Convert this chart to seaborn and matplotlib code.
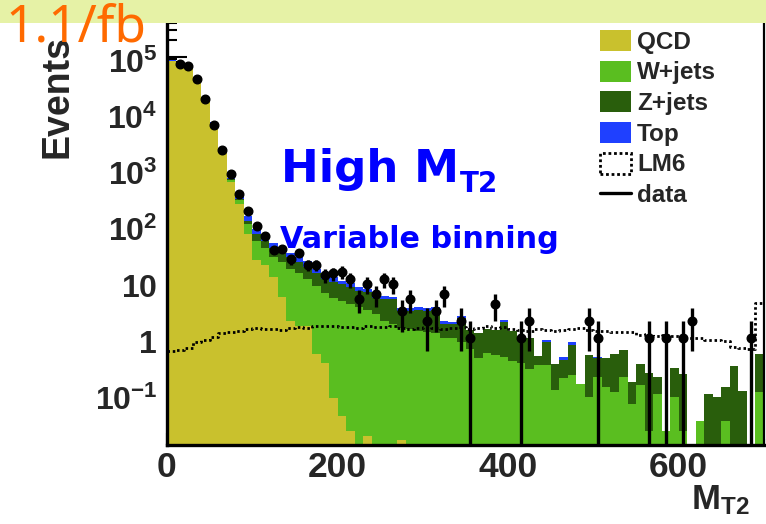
import numpy as np
import pandas as pd
import matplotlib
matplotlib.use("Agg")
import matplotlib.pyplot as plt
import seaborn as sns
from matplotlib.patches import Patch, Rectangle
from matplotlib.lines import Line2D
from matplotlib.font_manager import FontProperties
from matplotlib.ticker import FixedLocator, MultipleLocator, NullFormatter
from matplotlib.transforms import ScaledTranslation

# MT2 binning: 70 bins of 10 GeV from 0 to 700
edges = list(range(0, 701, 10))
centers = np.array(edges[:-1]) + 5

processes = ["QCD", "W+jets", "Z+jets", "Top"]

qcd = [86000, 82000, 70000, 44000, 18800, 6550, 2150, 600, 243, 70,
       24, 20, 12, 5.4, 2.0, 1.6, 1.6, 0.52, 0.36, 0.085,
       0.04, 0.022, 0, 0.018, 0, 0, 0, 0.015, 0, 0,
       0, 0, 0, 0, 0, 0, 0, 0, 0, 0,
       0, 0, 0, 0, 0, 0, 0, 0, 0, 0,
       0, 0, 0, 0, 0, 0, 0, 0, 0, 0,
       0, 0, 0, 0, 0, 0, 0, 0, 0, 0]

wjets = [120, 150, 160, 150, 130, 110, 80, 50, 42, 35,
         28, 20, 15, 16.6, 15, 12.9, 9.4, 7.9, 6.0, 5.1,
         4.46, 3.98, 3.5, 3.08, 2.7, 2.0, 1.8, 1.5, 1.45, 1.3,
         1.25, 1.2, 1.0, 1.0, 0.83, 0.64, 0.43, 0.53, 0.5, 0.45,
         0.39, 0.36, 0.28, 0.33, 0.33, 0.12, 0.19, 0.22, 0.15, 0.089,
         0.2, 0.135, 0.11, 0.2, 0.067, 0.145, 0.022, 0.1, 0.022, 0.087,
         0.022, 0, 0.033, 0, 0, 0.033, 0, 0, 0, 0.11]

zjets = [50, 60, 60, 60, 50, 40, 30, 12, 10, 15,
         18, 13, 13, 11, 10, 7.5, 7, 5.6, 4.6, 4.6,
         4.5, 3.9, 3.2, 3.4, 2.4, 3.0, 3.1, 1.55, 1.6, 1.8,
         1.8, 1.9, 0.8, 0.75, 1.4, 0.76, 0.81, 0.9, 0.9, 1.45,
         0.96, 0.68, 0.72, 0.15, 0.52, 0.22, 0.22, 0.53, 0, 0.41,
         0.24, 0.3, 0.4, 0.4, 0.1, 0.2, 0.22, 0.1, 0, 0.21,
         0.21, 0, 0, 0.1, 0.087, 0.1, 0.31, 0.115, 0, 0.4]

top = [200, 300, 350, 300, 250, 180, 110, 50, 28, 27,
       18, 17, 9, 7, 6, 5.5, 5, 3, 2.5, 2.2,
       1.5, 1.7, 1.2, 0.9, 0.6, 0.5, 0.55, 0.35, 0.35, 0.4,
       0.4, 0.4, 0.2, 0.2, 0.25, 0, 0, 0, 0, 0.2,
       0, 0, 0, 0, 0.08, 0, 0.04, 0.08, 0, 0,
       0.02, 0.01, 0, 0, 0, 0, 0, 0, 0, 0,
       0, 0, 0, 0, 0, 0, 0, 0, 0, 0]

lm6 = [0.58, 0.6, 0.66, 0.85, 0.93, 1.05, 1.2, 1.25, 1.35, 1.45,
       1.47, 1.42, 1.45, 1.4, 1.5, 1.55, 1.5, 1.65, 1.62, 1.6,
       1.55, 1.58, 1.52, 1.6, 1.55, 1.55, 1.6, 1.5, 1.45, 1.5,
       1.55, 1.5, 1.45, 1.5, 1.55, 1.45, 1.5, 1.6, 1.5, 1.55,
       1.45, 1.4, 1.35, 1.45, 1.4, 1.3, 1.4, 1.45, 1.5, 1.4,
       1.35, 1.3, 1.25, 1.27, 1.25, 1.13, 1.15, 1.1, 1.12, 1.08,
       1.0, 0.99, 1.0, 0.93, 0.9, 0.88, 0.7, 0.66, 0.63, 4.2]

data = [0, 75000, 68000, 40400, 17800, 6150, 2170, 828, 361, 180,
        98, 65, 37, 38, 25, 33, 20, 20, 13, 14,
        15, 11, 5, 9, 6, 11, 9, 3, 5, 0,
        2, 3, 6, 0, 2, 1, 0, 0, 4, 0,
        0, 1, 2, 0, 0, 0, 0, 0, 0, 2,
        1, 0, 0, 0, 0, 0, 1, 0, 1, 0,
        1, 2, 0, 0, 0, 0, 0, 0, 1, 0]

y_ticks = [1e-1, 1, 10, 1e2, 1e3, 1e4, 1e5]
y_ticklabels = [r"$\mathbf{10^{-1}}$", r"$\mathbf{1}$", r"$\mathbf{10}$",
                r"$\mathbf{10^{2}}$", r"$\mathbf{10^{3}}$",
                r"$\mathbf{10^{4}}$", r"$\mathbf{10^{5}}$"]
x_ticks = [0, 200, 400, 600]

colors = {"QCD": "#c9c12d", "W+jets": "#5abe20", "Z+jets": "#295e0c", "Top": "#1f40ff"}

sns.set_theme(style="white")
plt.rcParams.update({
    "font.family": ["Liberation Sans", "DejaVu Sans"],
    "mathtext.fontset": "custom",
    "mathtext.rm": "Liberation Sans",
    "mathtext.bf": "Liberation Sans:bold",
    "mathtext.it": "Liberation Sans:italic",
    "axes.edgecolor": "black",
})

fig = plt.figure(figsize=(7.66, 5.24), dpi=100)
fig.patch.set_facecolor("white")
ax = fig.add_axes([167 / 766, 1 - 445 / 524, 597 / 766, 435 / 524])
ax.set_facecolor("white")

# stacked background simulation
long = pd.DataFrame({
    "mt2": np.tile(centers, 4),
    "events": np.concatenate([qcd, wjets, zjets, top]),
    "process": np.repeat(processes, len(centers)),
})
sns.histplot(data=long, x="mt2", weights="events", hue="process",
             hue_order=["Top", "Z+jets", "W+jets", "QCD"], palette=colors,
             bins=edges, multiple="stack", element="step", fill=True,
             alpha=1, linewidth=0, legend=False, ax=ax)

# LM6 signal as a dotted outline
sig = pd.DataFrame({"mt2": centers, "events": lm6})
sns.histplot(data=sig, x="mt2", weights="events", bins=edges, element="step",
             fill=False, color="black", linewidth=2.0,
             linestyle=(0, (0.9, 1.0)), ax=ax)

# data with Poisson errors
d = np.asarray(data, dtype=float)
m = d > 0
ax.errorbar(centers[m], d[m], yerr=np.sqrt(d[m]), fmt="o", color="black",
            ms=6.2, elinewidth=2.4, capsize=0, zorder=5)

ax.set_yscale("log")
ax.set_xlim(0, 700)
ax.set_ylim(10 ** -1.906, 10 ** 5.835)

ax.yaxis.set_major_locator(FixedLocator(y_ticks))
ax.set_yticklabels(y_ticklabels)
ax.yaxis.set_minor_locator(FixedLocator(
    [m_ * 10.0 ** e for e in range(-2, 6) for m_ in range(2, 10)]))
ax.yaxis.set_minor_formatter(NullFormatter())
ax.xaxis.set_major_locator(FixedLocator(x_ticks))
ax.set_xticklabels([str(v) for v in x_ticks])
ax.xaxis.set_minor_locator(MultipleLocator(50))

ax.tick_params(axis="y", which="major", direction="in", length=14.4, width=1.5,
               pad=7, labelsize=23, left=True, right=False, color="black")
ax.tick_params(axis="y", which="minor", direction="in", length=7.2, width=1.5,
               left=True, right=False, color="black")
ax.tick_params(axis="x", which="major", direction="in", length=8.6, width=1.5,
               pad=4, labelsize=25.5, bottom=True, top=False, color="black")
ax.tick_params(axis="x", which="minor", direction="in", length=4.3, width=1.5,
               bottom=True, top=False, color="black")
for lab in ax.get_xticklabels():
    lab.set_fontweight("bold")

# decade labels sit slightly below their tick marks
shift = ScaledTranslation(0, -3.5 / 100, fig.dpi_scale_trans)
for tick in ax.yaxis.get_major_ticks():
    tick.label1.set_transform(tick.label1.get_transform() + shift)

for side in ["left", "bottom"]:
    ax.spines[side].set_linewidth(2.4)
ax.spines["right"].set_linewidth(1.6)
ax.spines["top"].set_visible(False)

ax.set_xlabel(r"$\mathbf{M_{T2}}$", fontsize=25, loc="right")
ax.xaxis.set_label_coords((750 - 167) / 597, -(483 - 445) / 435)
ax.set_ylabel("Events", fontsize=27, fontweight="bold")
ax.yaxis.set_label_coords((76 - 167) / 597, (445 - 96) / 435)

# annotations
ax.text((281 - 167) / 597, (445 - 182) / 435, "High M", transform=ax.transAxes,
        color="#0000ff", fontsize=32.5, fontweight="bold", family="DejaVu Sans",
        va="baseline")
ax.text((460 - 167) / 597, (445 - 192) / 435, "T2", transform=ax.transAxes,
        color="#0000ff", fontsize=20, fontweight="bold", family="DejaVu Sans",
        va="baseline")
ax.text((280 - 167) / 597, (445 - 248) / 435, "Variable binning",
        transform=ax.transAxes, color="#0000ff", fontsize=21.8,
        fontweight="bold", family="DejaVu Sans", va="baseline")

handles = [Patch(facecolor=colors[p], edgecolor="none", label=p) for p in processes]
handles.append(Patch(facecolor="white", edgecolor="black", linestyle=(0, (1, 1)),
                     linewidth=2, label="LM6"))
handles.append(Line2D([], [], color="black", lw=2.4, label="data"))
ax.legend(handles=handles, loc="upper left",
          bbox_to_anchor=((600 - 167) / 597, (445 - 30) / 435),
          frameon=False, prop=FontProperties(family="Liberation Sans",
                                             weight="bold", size=17.5),
          handlelength=1.28, handleheight=0.95, handletextpad=0.25,
          labelspacing=0.28, borderaxespad=0, borderpad=0)

# luminosity banner
fig.add_artist(Rectangle((0, 1 - 22.7 / 524), 1, 22.7 / 524,
                         transform=fig.transFigure, facecolor="#e6f2a6",
                         edgecolor="none", zorder=2))
fig.text(5 / 766, 1 - 42 / 524, "1.1/fb", fontsize=37, family="Noto Sans",
         color="#ff6a00", va="baseline", ha="left", zorder=3)

fig.savefig("out.png", dpi=100)
